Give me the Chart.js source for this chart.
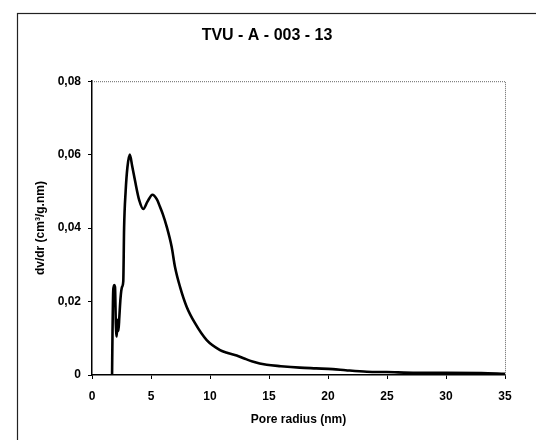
<!DOCTYPE html>
<html>
<head>
<meta charset="utf-8">
<script src="https://cdn.jsdelivr.net/npm/chart.js@4"></script>
<style>
  html, body { margin: 0; padding: 0; background: #fff; }
  #wrap { width: 536px; height: 440px; }
</style>
</head>
<body>
<div id="wrap"><canvas id="psdChart" width="536" height="440"></canvas></div>
<script>
// Pore size distribution
const chartTitle = 'TVU - A - 003 - 13';
const xTitle = 'Pore radius (nm)';
const yTitle = 'dv/dr (cm\u00b3/g.nm)';

const poreRadius = [1.70, 1.74, 1.80, 1.88, 1.95, 2.02, 2.10, 2.16, 2.24, 2.32, 2.42, 2.55, 2.65,
  2.72, 2.85, 3.00, 3.20, 3.40, 3.64, 4.00, 4.35, 4.70, 5.12, 5.50, 5.76, 6.00, 6.33, 6.75, 7.03,
  7.46, 8.02, 8.73, 9.72, 10.85, 11.50, 12.26, 12.90, 13.60, 14.80, 16.00, 17.60,
  19.00, 20.40, 21.50, 23.30, 25.00, 27.50, 30.00, 33.00, 35.00];
const dvdr = [0.0000, 0.0120, 0.0230, 0.0245, 0.0240, 0.0140, 0.0105, 0.0150, 0.0120, 0.0160, 0.0210, 0.0240, 0.0255,
  0.0400, 0.0500, 0.0565, 0.0600, 0.0570, 0.0530, 0.0476, 0.0452, 0.0472, 0.0491, 0.0478, 0.0458, 0.0438, 0.0404, 0.0349, 0.0295,
  0.0240, 0.0186, 0.0141, 0.0095, 0.0068, 0.0060, 0.0053, 0.0045, 0.0037, 0.0028, 0.0024, 0.0020,
  0.0018, 0.0016, 0.0013, 0.0009, 0.0008, 0.0006, 0.0006, 0.0005, 0.0003];

const xTicks = [0, 5, 10, 15, 20, 25, 30, 35];
const yTicks = [0, 0.02, 0.04, 0.06, 0.08];
const yTickLabels = ['0', '0,02', '0,04', '0,06', '0,08'];

const FONT = '"Liberation Sans", Arial, sans-serif';

// outer frame of the figure + dotted top/right edges of the plot
const framePlugin = {
  id: 'frame',
  beforeDraw(chart) {
    const ctx = chart.ctx;
    ctx.save();
    ctx.fillStyle = '#fff';
    ctx.fillRect(0, 0, chart.width, chart.height);
    ctx.strokeStyle = '#222';
    ctx.lineWidth = 1.2;
    ctx.strokeRect(17.5, 13.5, 600, 600);
    ctx.restore();
  },
  afterDraw(chart) {
    const a = chart.chartArea;
    const ctx = chart.ctx;
    ctx.save();
    ctx.strokeStyle = '#666';
    ctx.lineWidth = 1;
    ctx.setLineDash([1, 1]);
    ctx.beginPath();
    ctx.moveTo(a.left, a.top + 0.5);
    ctx.lineTo(a.right + 0.5, a.top + 0.5);
    ctx.lineTo(a.right + 0.5, a.bottom);
    ctx.stroke();
    ctx.restore();
  }
};

const ctx = document.getElementById('psdChart').getContext('2d');
new Chart(ctx, {
  type: 'line',
  data: {
    datasets: [{
      data: poreRadius.map((r, i) => ({ x: r, y: dvdr[i] })),
      borderColor: '#000',
      borderWidth: 2.6,
      pointRadius: 0,
      fill: false,
      cubicInterpolationMode: 'monotone'
    }]
  },
  options: {
    responsive: false,
    animation: false,
    layout: { padding: { left: 29, right: 31, top: 0, bottom: 0 } },
    plugins: {
      legend: { display: false },
      tooltip: { enabled: false },
      title: {
        display: true,
        text: chartTitle,
        color: '#000',
        font: { family: FONT, size: 16, weight: 'bold' },
        padding: { top: 26, bottom: 36 }
      }
    },
    scales: {
      x: {
        type: 'linear',
        min: 0,
        max: 35,
        afterBuildTicks: (s) => { s.ticks = xTicks.map(v => ({ value: v })); },
        afterFit: (s) => { s.height = 65; },
        border: { display: true, color: '#000', width: 1.5 },
        grid: { drawOnChartArea: false, tickLength: 4, color: '#000' },
        ticks: {
          color: '#000',
          padding: 10,
          maxRotation: 0,
          font: { family: FONT, size: 12, weight: 'bold' },
          callback: (v) => String(v)
        },
        title: {
          display: true,
          text: xTitle,
          color: '#000',
          font: { family: FONT, size: 12, weight: 'bold' },
          padding: { top: 0, bottom: 13 }
        }
      },
      y: {
        type: 'linear',
        min: 0,
        max: 0.08,
        afterBuildTicks: (s) => { s.ticks = yTicks.map(v => ({ value: v })); },
        afterFit: (s) => { s.width = 63; },
        border: { display: true, color: '#000', width: 1.5 },
        grid: { drawOnChartArea: false, tickLength: 4, color: '#000' },
        ticks: {
          color: '#000',
          padding: 7,
          font: { family: FONT, size: 12, weight: 'bold' },
          callback: (v, i) => yTickLabels[yTicks.indexOf(v)] ?? yTickLabels[i]
        },
        title: {
          display: true,
          text: yTitle,
          color: '#000',
          font: { family: FONT, size: 12, weight: 'bold' },
          padding: { top: 4, bottom: 0 }
        }
      }
    }
  },
  plugins: [framePlugin]
});
</script>
</body>
</html>
